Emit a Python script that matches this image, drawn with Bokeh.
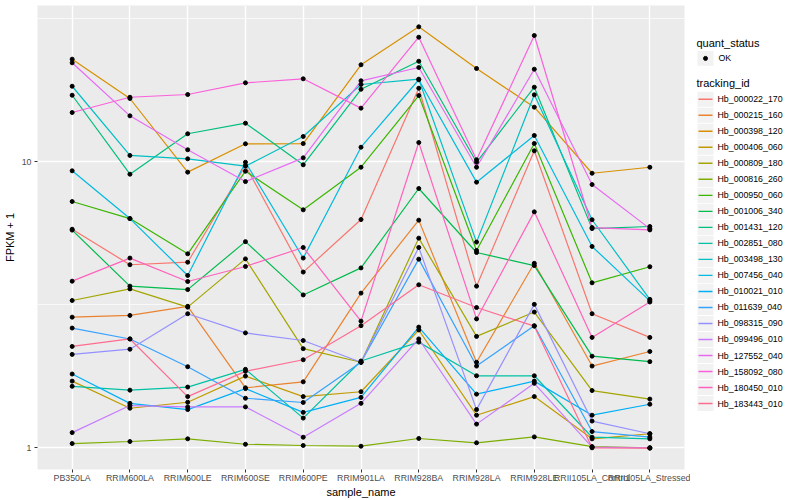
import math
from bokeh.plotting import figure
from bokeh.models import FactorRange, Range1d, FixedTicker, BasicTickFormatter
from bokeh.layouts import row
from bokeh.embed import file_html
from bokeh.resources import INLINE
from bokeh.core.properties import value

# ---------------- data ----------------
samples = ["PB350LA", "RRIM600LA", "RRIM600LE", "RRIM600SE", "RRIM600PE", "RRIM901LA",
           "RRIM928BA", "RRIM928LA", "RRIM928LE", "RRII105LA_Control", "RRII105LA_Stressed"]

tracking_ids = ["Hb_000022_170", "Hb_000215_160", "Hb_000398_120", "Hb_000406_060",
                "Hb_000809_180", "Hb_000816_260", "Hb_000950_060", "Hb_001006_340",
                "Hb_001431_120", "Hb_002851_080", "Hb_003498_130", "Hb_007456_040",
                "Hb_010021_010", "Hb_011639_040", "Hb_098315_090", "Hb_099496_010",
                "Hb_127552_040", "Hb_158092_080", "Hb_180450_010", "Hb_183443_010"]

fpkm_000022_170 = [5.80, 4.36, 4.45, 9.68, 4.11, 6.27, 18.03, 3.67, 10.90, 2.94, 2.43]
fpkm_000215_160 = [2.86, 2.90, 3.12, 1.62, 1.70, 3.47, 6.24, 1.99, 4.41, 1.93, 2.17]
fpkm_000398_120 = [22.77, 16.60, 9.18, 11.53, 11.55, 21.77, 29.54, 21.13, 15.48, 9.10, 9.55]
fpkm_000406_060 = [1.71, 1.375, 1.443, 1.78, 1.51, 1.57, 2.58, 1.30, 1.51, 1.075, 1.12]
fpkm_000809_180 = [3.27, 3.59, 3.10, 4.57, 2.22, 1.99, 5.40, 2.45, 2.98, 1.585, 1.48]
fpkm_000816_260 = [1.035, 1.052, 1.075, 1.029, 1.019, 1.013, 1.078, 1.041, 1.092, 1.01, 1.0]
fpkm_000950_060 = [7.25, 6.32, 4.76, 9.25, 6.78, 9.55, 17.00, 4.89, 11.56, 3.77, 4.29]
fpkm_001006_340 = [5.76, 3.67, 3.57, 5.25, 3.42, 4.25, 8.05, 4.81, 4.33, 2.09, 2.00]
fpkm_001431_120 = [17.04, 9.03, 12.50, 13.61, 9.74, 17.88, 22.40, 9.94, 18.18, 5.83, 5.93]
fpkm_002851_080 = [1.64, 1.59, 1.63, 1.88, 1.27, 2.01, 2.34, 1.785, 1.785, 1.089, 1.075]
fpkm_003498_130 = [18.32, 10.50, 10.22, 9.63, 12.23, 18.58, 19.39, 5.23, 17.10, 6.26, 3.30]
fpkm_007456_040 = [9.28, 6.32, 4.00, 9.94, 4.60, 11.22, 19.30, 8.47, 12.33, 5.05, 3.26]
fpkm_010021_010 = [1.81, 1.43, 1.36, 1.61, 1.33, 1.50, 2.64, 1.54, 1.71, 1.30, 1.42]
fpkm_011639_040 = [2.62, 2.40, 1.92, 1.49, 1.44, 1.99, 4.56, 1.93, 2.67, 1.14, 1.09]
fpkm_098315_090 = [2.12, 2.21, 2.94, 2.52, 2.37, 1.99, 5.01, 1.36, 3.17, 1.24, 1.12]
fpkm_099496_010 = [1.13, 1.405, 1.39, 1.39, 1.089, 1.43, 2.40, 1.21, 1.68, 1.005, 1.0]
fpkm_127552_040 = [22.12, 14.44, 10.99, 8.51, 10.30, 19.14, 21.30, 9.55, 21.01, 8.31, 5.83]
fpkm_158092_080 = [14.83, 16.77, 17.14, 18.83, 19.45, 15.36, 27.18, 10.14, 27.55, 5.88, 5.77]
fpkm_180450_010 = [3.82, 4.60, 3.81, 4.30, 5.01, 2.77, 11.65, 2.82, 6.67, 2.43, 3.23]
fpkm_183443_010 = [2.26, 2.40, 1.51, 1.85, 2.03, 2.67, 3.71, 3.09, 2.66, 1.0, 0.997]

series = [fpkm_000022_170, fpkm_000215_160, fpkm_000398_120, fpkm_000406_060,
          fpkm_000809_180, fpkm_000816_260, fpkm_000950_060, fpkm_001006_340,
          fpkm_001431_120, fpkm_002851_080, fpkm_003498_130, fpkm_007456_040,
          fpkm_010021_010, fpkm_011639_040, fpkm_098315_090, fpkm_099496_010,
          fpkm_127552_040, fpkm_158092_080, fpkm_180450_010, fpkm_183443_010]

# ggplot2 default hue palette (20 levels)
colors = ["#F8766D", "#EA8331", "#D89000", "#C09B00", "#A3A500", "#7CAE00", "#39B600",
          "#00BB4E", "#00BF7D", "#00C1A3", "#00BFC4", "#00BAE0", "#00B0F6", "#35A2FF",
          "#9590FF", "#C77CFF", "#E76BF3", "#FA62DB", "#FF62BC", "#FF6C91"]

FONT = "Liberation Sans"

# ---------------- main plot ----------------
p = figure(width=690, height=500,
           x_range=FactorRange(factors=samples, range_padding=0.2 / 11),
           y_range=Range1d(0.84, 35.07), y_axis_type="log",
           output_backend="svg", toolbar_location=None,
           min_border_left=36, min_border_right=6, min_border_top=5, min_border_bottom=31)

p.background_fill_color = "#EBEBEB"
p.border_fill_color = "white"
p.outline_line_color = None

p.xgrid.grid_line_color = "white"
p.xgrid.grid_line_width = 1.4
p.ygrid.grid_line_color = "white"
p.ygrid.grid_line_width = 1.4
p.ygrid.minor_grid_line_color = "white"
p.ygrid.minor_grid_line_width = 0.7

p.yaxis.ticker = FixedTicker(ticks=[1, 10], minor_ticks=[10 ** -0.5, 10 ** 0.5, 10 ** 1.5])
p.yaxis.formatter = BasicTickFormatter()

for ax in (p.xaxis, p.yaxis):
    ax.axis_line_color = None
    ax.major_tick_line_color = "#333333"
    ax.major_tick_out = 3
    ax.major_tick_in = 0
    ax.minor_tick_line_color = None
    ax.major_label_text_font = FONT
    ax.major_label_text_font_size = "8.8px"
    ax.major_label_text_color = "#4D4D4D"
    ax.axis_label_text_font = FONT
    ax.axis_label_text_font_size = "11px"
    ax.axis_label_text_font_style = "normal"
    ax.axis_label_text_color = "black"
p.xaxis.major_label_standoff = 0
p.yaxis.major_label_standoff = 2
p.xaxis.axis_label = "sample_name"
p.yaxis.axis_label = "FPKM + 1"
p.xaxis.axis_label_standoff = 0
p.yaxis.axis_label_standoff = 3

for vals, col in zip(series, colors):
    p.line(x=samples, y=vals, line_color=col, line_width=1.2)
for vals in series:
    p.scatter(x=samples, y=vals, size=4, fill_color="black", line_color="black")

# ---------------- legend panel ----------------
lg = figure(width=110, height=500, x_range=Range1d(0, 110), y_range=Range1d(500, 0),
            x_axis_type=None, y_axis_type=None, output_backend="svg",
            toolbar_location=None, min_border=0)
lg.grid.visible = False
lg.outline_line_color = None
lg.background_fill_color = "white"
lg.border_fill_color = "white"

lg.text(x=[6], y=[40], text=["quant_status"], text_font=value(FONT),
        text_font_size="11px", text_baseline="middle", text_color="black")
lg.rect(x=[15], y=[57], width=16, height=16, fill_color="#F2F2F2", line_color=None)
lg.scatter(x=[15], y=[57], size=4, fill_color="black", line_color="black")
lg.text(x=[28], y=[57], text=["OK"], text_font=value(FONT),
        text_font_size="8.8px", text_baseline="middle", text_color="black")

lg.text(x=[6], y=[84], text=["tracking_id"], text_font=value(FONT),
        text_font_size="11px", text_baseline="middle", text_color="black")
key_y = [101 + 17.26 * i for i in range(len(tracking_ids))]
lg.rect(x=[15] * len(key_y), y=key_y, width=16, height=16.3,
        fill_color="#F2F2F2", line_color=None)
lg.multi_line(xs=[[8, 22]] * len(key_y), ys=[[y, y] for y in key_y],
              line_color=colors, line_width=1.4)
lg.text(x=[27] * len(key_y), y=key_y, text=tracking_ids, text_font=value(FONT),
        text_font_size="8.8px", text_baseline="middle", text_color="black")

layout = row(p, lg)
open("out.html", "w").write(file_html(layout, INLINE))
